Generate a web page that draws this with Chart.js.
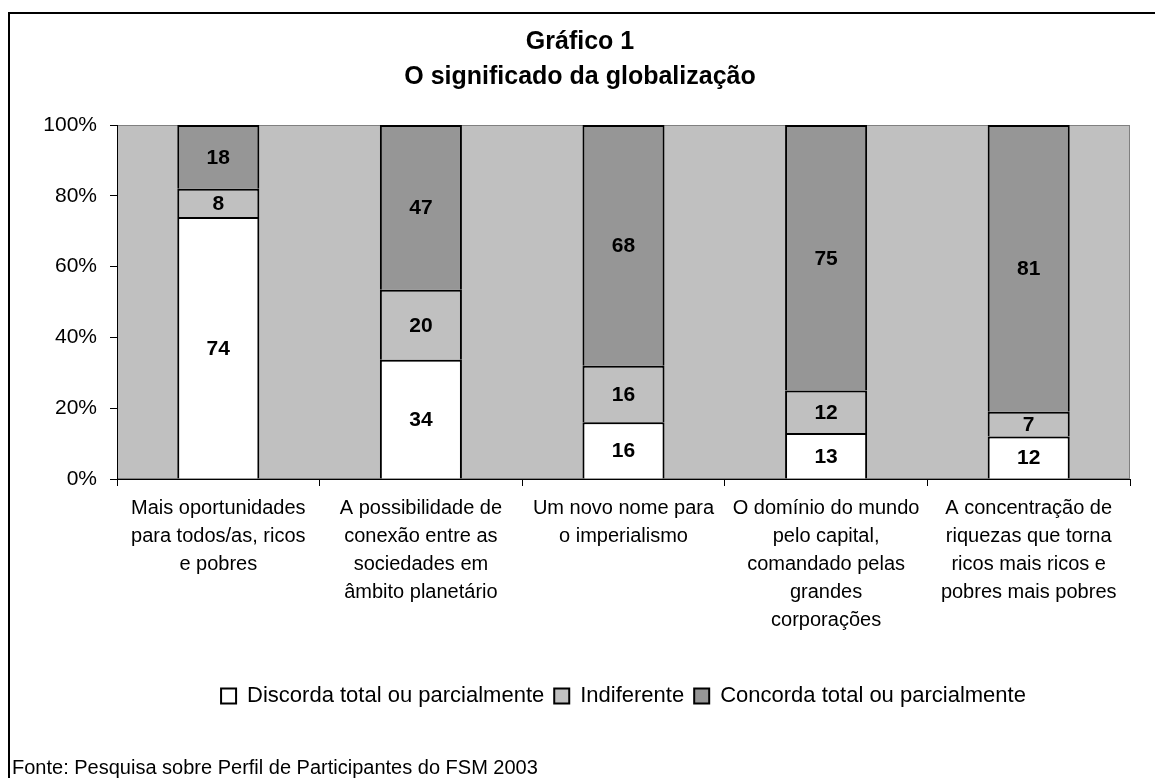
<!DOCTYPE html>
<html>
<head>
<meta charset="utf-8">
<script src="https://cdn.jsdelivr.net/npm/chart.js@4.4.1/dist/chart.umd.min.js"></script>
<style>
  html, body { margin: 0; padding: 0; background: #fff; overflow: hidden; }
  #wrap { position: relative; width: 1155px; height: 778px; }
  #frame { position: absolute; left: 8px; top: 12px; width: 1200px; height: 800px; border-left: 2px solid #000; border-top: 2px solid #000; }
  #grafico { position: absolute; left: 0; top: 0; }
  #fonte { position: absolute; left: 12px; top: 757px; font: 20px "Liberation Sans", Arial, sans-serif; line-height: 20px; color: #000; white-space: nowrap; }
</style>
</head>
<body>
<div id="wrap">
  <div id="frame"></div>
  <canvas id="grafico" width="1155" height="778"></canvas>
  <div id="fonte">Fonte: Pesquisa sobre Perfil de Participantes do FSM 2003</div>
</div>
<script>
// categorias (eixo x)
const categorias = [
  ['Mais oportunidades', 'para todos/as, ricos', 'e pobres'],
  ['A possibilidade de', 'conexão entre as', 'sociedades em', 'âmbito planetário'],
  ['Um novo nome para', 'o imperialismo'],
  ['O domínio do mundo', 'pelo capital,', 'comandado pelas', 'grandes', 'corporações'],
  ['A concentração de', 'riquezas que torna', 'ricos mais ricos e', 'pobres mais pobres']
];

// valores (%)
const discorda = [74, 34, 16, 13, 12];
const indiferente = [8, 20, 16, 12, 7];
const concorda = [18, 47, 68, 75, 81];

const nomesSeries = ['Discorda total ou parcialmente', 'Indiferente', 'Concorda total ou parcialmente'];
const yTicks = [0, 20, 40, 60, 80, 100];

const FONTE = '"Liberation Sans", Arial, sans-serif';
Chart.defaults.font.family = FONTE;
Chart.defaults.color = '#000';

// 100% empilhado: normaliza cada coluna pelo total
const totais = discorda.map((v, i) => v + indiferente[i] + concorda[i]);
const pct = arr => arr.map((v, i) => v / totais[i] * 100);

// fundo cinza da área de plotagem
const fundo = {
  id: 'fundo',
  beforeDraw(chart) {
    const { ctx, chartArea: a } = chart;
    ctx.save();
    ctx.fillStyle = '#c0c0c0';
    ctx.fillRect(a.left, a.top, a.right - a.left, a.bottom - a.top);
    ctx.strokeStyle = '#808080';
    ctx.lineWidth = 1;
    ctx.strokeRect(a.left + 0.5, a.top + 0.5, a.right - a.left - 1, a.bottom - a.top - 1);
    ctx.restore();
  }
};

// rótulos dos valores no meio de cada segmento
const rotulos = {
  id: 'rotulos',
  afterDatasetsDraw(chart) {
    const ctx = chart.ctx;
    ctx.save();
    ctx.font = 'bold 21px ' + FONTE;
    ctx.fillStyle = '#000';
    ctx.textAlign = 'center';
    ctx.textBaseline = 'middle';
    chart.data.datasets.forEach((ds, i) => {
      chart.getDatasetMeta(i).data.forEach((bar, j) => {
        ctx.fillText(ds.valores[j], bar.x, (bar.y + bar.base) / 2 + 1);
      });
    });
    ctx.restore();
  }
};

const serie = (nome, valores, cor) => ({
  label: nome,
  data: pct(valores),
  valores: valores,
  backgroundColor: cor,
  borderColor: '#000',
  borderWidth: 2,
  categoryPercentage: 1,
  barPercentage: 0.405
});

new Chart(document.getElementById('grafico').getContext('2d'), {
  type: 'bar',
  data: {
    labels: categorias,
    datasets: [
      serie(nomesSeries[0], discorda, '#ffffff'),
      serie(nomesSeries[1], indiferente, '#c0c0c0'),
      serie(nomesSeries[2], concorda, '#969696')
    ]
  },
  options: {
    responsive: false,
    animation: false,
    layout: { padding: { top: 13, left: 8, right: 3, bottom: 61 } },
    plugins: {
      tooltip: { enabled: false },
      title: {
        display: true,
        text: ['Gráfico 1', 'O significado da globalização'],
        color: '#000',
        font: { size: 25, weight: 'bold', lineHeight: 1.4 },
        padding: { top: 11.5, bottom: 30.5 }
      },
      legend: {
        position: 'bottom',
        fullSize: false,
        labels: {
          boxWidth: 15,
          boxHeight: 15,
          padding: 10,
          color: '#000',
          font: { size: 22 }
        }
      }
    },
    scales: {
      x: {
        stacked: true,
        grid: { drawOnChartArea: false, color: '#000', tickLength: 7 },
        border: { color: '#000', width: 1 },
        ticks: { font: { size: 20, lineHeight: 1.4 }, padding: 8, maxRotation: 0, autoSkip: false },
        afterFit(s) { s.height = 196; }
      },
      y: {
        stacked: true,
        min: 0,
        max: 100,
        afterBuildTicks(s) { s.ticks = yTicks.map(v => ({ value: v })); },
        grid: { drawOnChartArea: false, color: '#000', tickLength: 7 },
        border: { color: '#000', width: 1 },
        ticks: { font: { size: 21 }, padding: 13, callback: v => v + '%' },
        afterFit(s) { s.width = 109; }
      },
      y2: {
        position: 'right',
        display: true,
        grid: { display: false, drawTicks: false },
        border: { display: false },
        ticks: { display: false },
        afterFit(s) { s.width = 22; }
      }
    }
  },
  plugins: [fundo, rotulos]
});
</script>
</body>
</html>
